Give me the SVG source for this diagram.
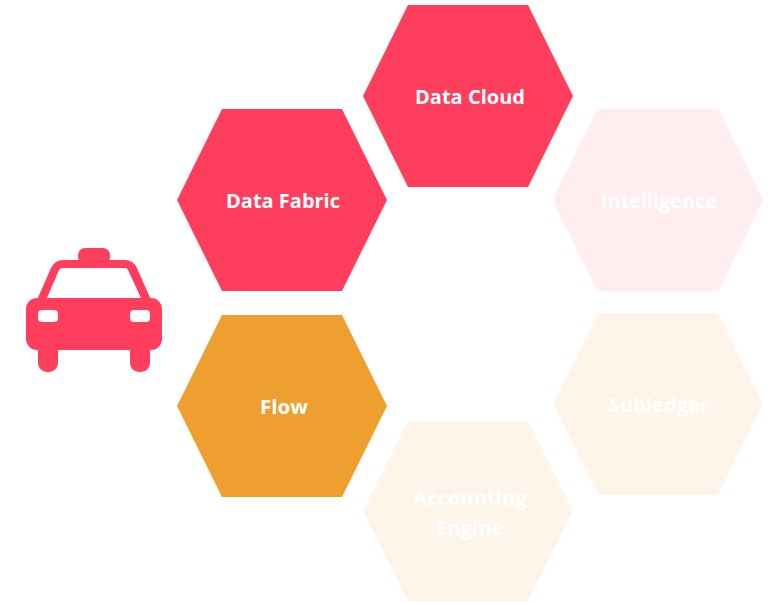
<svg xmlns="http://www.w3.org/2000/svg" width="775" height="603" viewBox="0 0 775 603">
<style>
.l{font-family:"Open Sans","Noto Sans","Liberation Sans",sans-serif;font-weight:700;font-size:20px;fill:#fff;text-anchor:middle}
.r{fill:#ff3d5c}.o{fill:#ef9f30}.pr{fill:#ffedef}.po{fill:#fdf5ea}
</style>
<rect width="775" height="603" fill="#fff"/>
<g id="car">
<rect class="r" x="78" y="248" width="32" height="16" rx="7"/>
<path class="r" fill-rule="evenodd" d="M37 300L51 268Q55 260 63 260H125Q133 260 137 268L151 300ZM47 298H141L128 270Q127 268 125 268H63Q60 268 59 270Z"/>
<rect class="r" x="26" y="298" width="136" height="52" rx="11"/>
<rect class="r" x="38" y="340" width="20" height="32" rx="9"/>
<rect class="r" x="130" y="340" width="20" height="32" rx="9"/>
<rect x="38" y="310" width="20" height="12" rx="4" fill="#fff"/>
<rect x="130" y="310" width="20" height="12" rx="4" fill="#fff"/>
</g>
<g id="data-fabric"><polygon class="r" points="177,200 222,109 342,109 387,200 342,291 222,291"/><text class="l" x="283" y="208" textLength="114" lengthAdjust="spacingAndGlyphs">Data Fabric</text></g>
<g id="data-cloud"><polygon class="r" points="363,96 408,5 528,5 573,96 528,187 408,187"/><text class="l" x="470" y="104" textLength="110" lengthAdjust="spacingAndGlyphs">Data Cloud</text></g>
<g id="intelligence"><polygon class="pr" points="553,200 598,109 718,109 763,200 718,291 598,291"/><text class="l" x="659" y="208" textLength="116" lengthAdjust="spacingAndGlyphs">Intelligence</text></g>
<g id="subledger"><polygon class="po" points="553,404 598,313 718,313 763,404 718,495 598,495"/><text class="l" x="659" y="412" textLength="101" lengthAdjust="spacingAndGlyphs">Subledger</text></g>
<g id="flow"><polygon class="o" points="177,406 222,315 342,315 387,406 342,497 222,497"/><text class="l" x="284" y="414" textLength="48" lengthAdjust="spacingAndGlyphs">Flow</text></g>
<g id="accounting-engine"><polygon class="po" points="363,511 408,421 528,421 573,511 528,601 408,601"/><text class="l" x="470" y="505" textLength="113" lengthAdjust="spacingAndGlyphs">Accounting</text><text class="l" x="470" y="535" textLength="67" lengthAdjust="spacingAndGlyphs">Engine</text></g>
<g id="connectors"></g>
</svg>
